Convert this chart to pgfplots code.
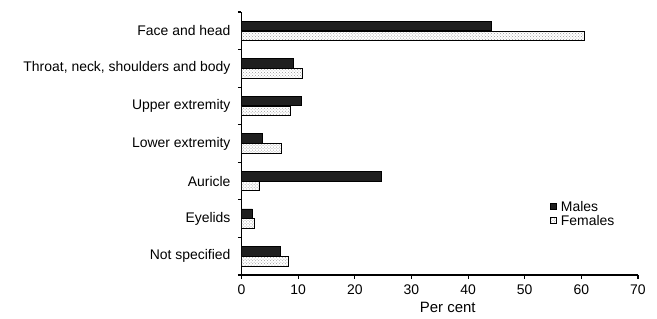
\documentclass[border=0pt]{standalone}
\usepackage{pgfplots}
\pgfplotsset{compat=1.18}
\usepackage{fontspec}
\setmainfont{Liberation Sans}
\usetikzlibrary{patterns}
\newcommand\fs{\fontsize{14}{16}\selectfont}
\begin{document}
\begin{tikzpicture}
\begin{axis}[
  at={(0,0)}, anchor=south west,
  scale only axis, width=396.5bp, height=263bp,
  xbar, bar width=9.5bp,
  xmin=0, xmax=70, ymin=-0.5, ymax=6.5,
  axis lines*=left,
  axis line style={line width=1.1bp},
  every tick/.style={black, line width=1.1bp},
  tick align=outside, major tick length=3.5bp,
  xtick={0,10,...,70},
  ytick={-0.5,0.5,...,6.5},
  yticklabels={Not specified, Eyelids, Auricle, Lower extremity, Upper extremity, {Throat, neck, shoulders and body}, Face and head, {}},
  yticklabel style={yshift=18.8bp, xshift=-4bp, font=\fs},
  xticklabel style={font=\fs, yshift=-2.5bp},
  /pgf/number format/assume math mode=true,
  xlabel={Per cent},
  xlabel style={font=\fontsize{15}{17}\selectfont, xshift=8bp, yshift=-1bp},
  legend cell align=left,
  legend style={at={(0.778,0.282)}, anchor=north west, draw=none, fill=none, font=\fs,
    inner sep=0pt, row sep=0pt, column sep=0pt,
    nodes={inner sep=0pt, text height=10bp, text depth=4.5bp}},
  legend image code/.code={\draw[#1] (0bp,-1bp) rectangle (6bp,5bp); \path (10bp,0bp);},
]
\addplot[bar shift=5bp, fill=black!88, draw=black, line width=0.6bp]
  coordinates {(6.8,0) (1.9,1) (24.7,2) (3.7,3) (10.5,4) (9.1,5) (44.1,6)};
\addplot[bar shift=-5bp, fill=white, draw=black, line width=0.8bp,
  postaction={pattern=crosshatch dots, pattern color=gray!80}]
  coordinates {(8.3,0) (2.3,1) (3.2,2) (7.0,3) (8.6,4) (10.8,5) (60.5,6)};
\legend{Males, Females}
\end{axis}
\pgfresetboundingbox
\path[use as bounding box] (-241.5bp,-44bp) rectangle (415.5bp,275bp);
\end{tikzpicture}
\end{document}
